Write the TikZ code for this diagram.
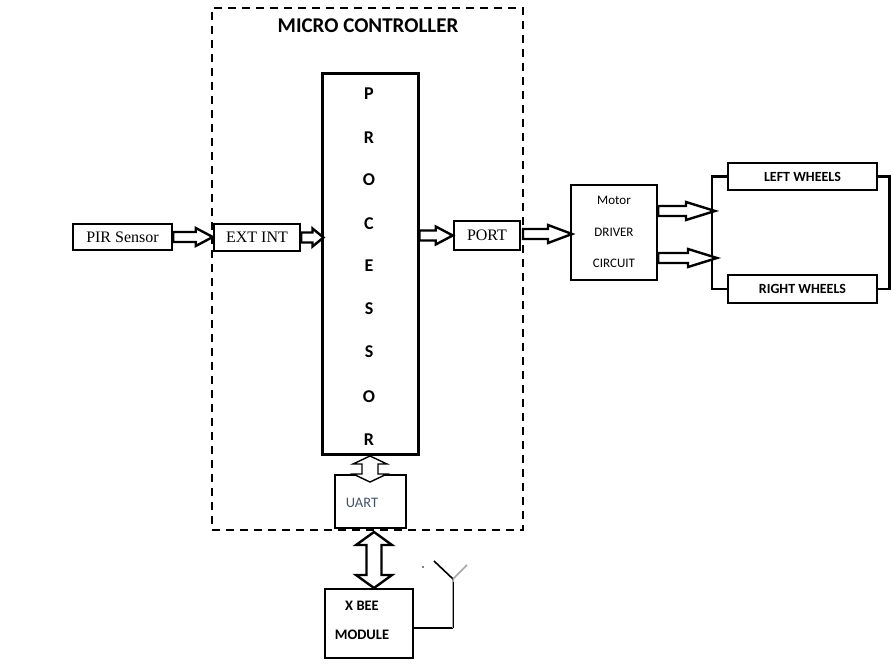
\documentclass[tikz,border=0pt]{standalone}
\usepackage{fontspec}
\setmainfont{Liberation Serif}
\newfontfamily\carfont{Carlito}
\usetikzlibrary{calc}
\definecolor{uartc}{HTML}{44546A}
\newcommand\hollowR[5]{% from, to, shaft half, head half, head length
  \draw[harrowline] let \p1=(#1), \p2=(#2) in
   (\x1,{\y1+#3}) -- ({\x2-#5},{\y1+#3}) -- ({\x2-#5},{\y1+#4}) -- (\x2,\y1)
   -- ({\x2-#5},{\y1-#4}) -- ({\x2-#5},{\y1-#3}) -- (\x1,{\y1-#3}) -- cycle;}
\newcommand\hollowUD[5]{% top, bottom, shaft half, head half, head length
  \draw[harrowline] let \p1=(#1), \p2=(#2) in
   (\x1,\y1) -- ({\x1+#4},{\y1-#5}) -- ({\x1+#3},{\y1-#5}) -- ({\x1+#3},{\y2+#5})
   -- ({\x1+#4},{\y2+#5}) -- (\x1,\y2) -- ({\x1-#4},{\y2+#5}) -- ({\x1-#3},{\y2+#5})
   -- ({\x1-#3},{\y1-#5}) -- ({\x1-#4},{\y1-#5}) -- cycle;}
\begin{document}
\begin{tikzpicture}[x=1pt,y=-1pt,
  box/.style={draw,line width=2.5pt,inner sep=0pt,fill=white},
  harrowline/.style={draw,line width=2.4pt,fill=white,line join=miter},
  sanslbl/.style={font=\carfont\fontsize{13}{15}\selectfont,inner sep=0pt},
  sanbold/.style={font=\carfont\bfseries\fontsize{14}{16}\selectfont,inner sep=0pt},
  serlbl/.style={font=\fontsize{16}{18}\selectfont,inner sep=0pt},
  plet/.style={font=\carfont\bfseries\fontsize{18}{20}\selectfont,inner sep=0pt}]
\useasboundingbox[fill=white] (0,0) rectangle (893,668);
% micro controller dashed frame
\node[draw,dashed,line width=1.4pt,dash pattern=on 8pt off 6pt,minimum width=311pt,minimum height=522pt,inner sep=0pt] (mc) at (367.5,269) {};
\node[font=\carfont\bfseries\fontsize{21}{24}\selectfont,inner sep=0pt] (mctitle) at (368,26) {MICRO CONTROLLER};
% processor
\node[box,line width=3pt,minimum width=96pt,minimum height=380pt] (proc) at (370,264) {};
\foreach \l/\yy [count=\i] in {P/94,R/138,O/180,C/224,E/266,S/309,S/352,O/397,R/440}
  \node[plet] (pl\i) at (369,\yy) {\l};
% left side
\node[box,minimum width=99pt,minimum height=26pt] (pir) at (122.5,237) {};
\node[serlbl] (pirt) at (pir.center) {PIR Sensor};
\node[box,minimum width=86pt,minimum height=27pt] (ext) at (257,237.5) {};
\node[serlbl] (extt) at (ext.center) {EXT INT};
\hollowR{pir.east}{ext.west}{5pt}{9pt}{17pt}
\coordinate (procin) at ($(proc.west|-ext.east)+(3,0)$);
\hollowR{ext.east}{procin}{5pt}{9pt}{11pt}
% port
\node[box,minimum width=66pt,minimum height=29pt] (port) at (487,235.5) {};
\node[serlbl] (portt) at (port.center) {PORT};
\coordinate (procout) at (proc.east|-port.west);
\hollowR{procout}{port.west}{5pt}{9pt}{17pt}
% motor driver
\node[box,minimum width=86pt,minimum height=95pt] (mot) at (614,232.5) {};
\node[sanslbl] (mot1) at (614,200) {Motor};
\node[sanslbl] (mot2) at (614,232) {DRIVER};
\node[sanslbl] (mot3) at (614,263) {CIRCUIT};
\coordinate (portout) at (523,234);
\coordinate (motin) at (572,234);
\hollowR{portout}{motin}{5pt}{9pt}{24pt}
% wheels
\node[box,minimum width=149pt,minimum height=27pt] (lw) at (802.5,176.5) {};
\node[sanbold] (lwt) at (lw.center) {LEFT WHEELS};
\node[box,minimum width=149pt,minimum height=28pt] (rw) at (802.5,289) {};
\node[sanbold] (rwt) at (rw.center) {RIGHT WHEELS};
\draw[line width=2.5pt] (lw.west) -- ++(-15,0) |- (rw.west);
\draw[line width=2.5pt] (lw.east) -- ++(11,0) |- (rw.east);
\coordinate (m1s) at (mot.east|-0,211);
\coordinate (m1e) at (715,211);
\coordinate (m2s) at (mot.east|-0,258);
\coordinate (m2e) at (717,258);
\hollowR{m1s}{m1e}{5pt}{9pt}{29pt}
\hollowR{m2s}{m2e}{5pt}{9pt}{29pt}
% UART
\node[box,minimum width=71pt,minimum height=53pt] (uart) at (370.5,501.5) {};
\node[font=\carfont\fontsize{14.5}{16}\selectfont,text=uartc,inner sep=0pt] (uartt) at (362,503) {UART};
\coordinate (pu1) at (370,456);
\coordinate (pu2) at (370,482);
\begin{scope}[harrowline/.append style={line width=1.4pt}]
\hollowUD{pu1}{pu2}{8pt}{17pt}{8pt}
\end{scope}
% XBEE
\node[box,minimum width=88pt,minimum height=69pt] (xbee) at (369,623.5) {};
\node[font=\carfont\bfseries\fontsize{14.5}{16}\selectfont,inner sep=0pt] (xb1) at (362,606) {X BEE};
\node[font=\carfont\bfseries\fontsize{14.5}{16}\selectfont,inner sep=0pt] (xb2) at (362,635) {MODULE};
\coordinate (ux1) at (374,532);
\coordinate (ux2) at (374,588);
\hollowUD{ux1}{ux2}{7.5pt}{18pt}{13pt}
% antenna
\coordinate (ant) at (453,579);
\coordinate (antb) at (453,628);
\draw[line width=1.8pt] (xbee.east|-antb) -- (antb);
\draw[line width=1.8pt,gray!70] (antb) -- (ant);
\draw[line width=1.2pt] (453.8,628) -- (453.8,582);
\draw[line width=1.6pt] (ant) -- (434,561);
\draw[line width=1.6pt,gray!70] (ant) -- (467,565);
\fill (423,567) circle (0.8pt);
\end{tikzpicture}
\end{document}
